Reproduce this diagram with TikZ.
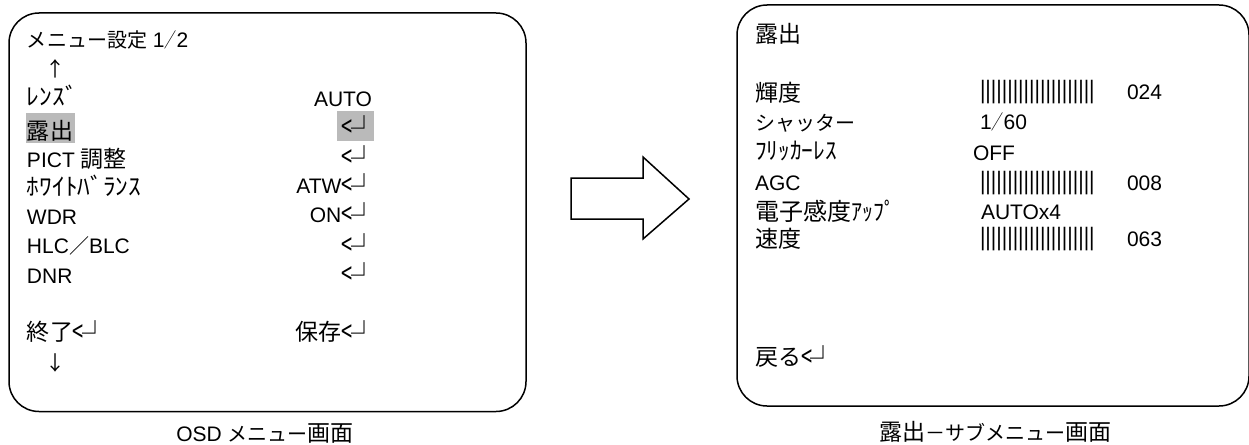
\documentclass[tikz,border=0pt]{standalone}
\usepackage{fontspec}
\setmainfont{Liberation Sans}
\newfontfamily\jp{Noto Sans CJK JP}
\newcommand{\kj}[1]{{\jp\fontsize{23}{24}\selectfont #1}}
\newcommand{\kn}[1]{{\jp\fontsize{20}{24}\selectfont #1}}
\newcommand{\hk}[2]{\scalebox{#1}[1.2]{\kn{#2}}}
\newcommand{\ent}{\mbox{\raisebox{-2.5pt}{\scalebox{1}[1.5]{\jp\fontsize{20}{24}\selectfont <}}\kern-1.5pt\smash{\raisebox{-3pt}{\jp\fontsize{26}{26}\selectfont ┘}}\kern-13pt}}
\newcommand{\barsx}{\scalebox{1}[1.2]{\foreach \i in {1,...,21}{|}}}
\newcommand{\wslash}{\scalebox{0.6}[1]{\kn{／}}}
\tikzset{
 tx/.style={anchor=base west,inner sep=0pt,outer sep=0pt,font=\fontsize{21}{24}\selectfont},
 tr/.style={anchor=base east,inner sep=0pt,outer sep=0pt,font=\fontsize{21}{24}\selectfont},
 captxt/.style={anchor=base,inner sep=0pt,outer sep=0pt,font=\fontsize{21}{24}\selectfont},
 screen/.style={draw=black,line width=1.5pt,rounded corners=30pt},
 hl/.style={fill=black!27,draw=none}
}
\begin{document}
\begin{tikzpicture}[x=1pt,y=-1pt]
\useasboundingbox (0,0) rectangle (1249,444);
\fill[white] (0,0) rectangle (1249,444);
\draw[screen] (9,13) rectangle (526,411.5);
\draw[screen] (737,5) rectangle (1249,406);
\fill[hl] (26,113) rectangle (75,143);
\fill[hl] (337,111) rectangle (374,141);
\draw[line width=1.5pt,line join=miter] (571,178) -- (643,178) -- (643,157) -- (689,199) -- (643,239) -- (643,219) -- (571,219) -- cycle;
\node[tx] (a1) at (27,48) {\kn{メニュー設定}\ 1\wslash 2};
\node[tx] (a2) at (45,77) {\kn{↑}};
\node[tx] (a3) at (27,105) {\hk{1.27}{ﾚﾝｽﾞ}};
\node[tr] (b3) at (372,106) {AUTO};
\node[tx] (a4) at (27,139) {\kj{露出}};
\node[tr] (b4) at (364,135) {\ent};
\node[tx] (a5) at (27,167) {PICT \kj{調整}};
\node[tr] (b5) at (364,165) {\ent};
\node[tx] (a6) at (27,195) {\hk{1.27}{ﾎﾜｲﾄﾊﾞﾗﾝｽ}};
\node[tr] (b6) at (364,193) {ATW\ent};
\node[tx] (a7) at (27,224) {WDR};
\node[tr] (b7) at (364,222) {ON\ent};
\node[tx] (a8) at (27,253) {HLC\kn{／}BLC};
\node[tr] (b8) at (364,253) {\ent};
\node[tx] (a9) at (27,283) {DNR};
\node[tr] (b9) at (364,282) {\ent};
\node[tx] (a10) at (27,340) {\kj{終了}\ent};
\node[tr] (b10) at (364,340) {\kj{保存}\ent};
\node[tx] (a11) at (45,370) {\kn{↓}};
\node[captxt] (c1) at (265,441) {OSD \kn{メニュー}\kj{画面}};
\node[tx] (r1) at (755,42) {\kj{露出}};
\node[tx] (r2) at (755,101) {\kj{輝度}};
\node[tx] (v2) at (980,98) {\barsx};
\node[tx] (n2) at (1127,99) {024};
\node[tx] (r3) at (755,130) {\kn{シャッター}};
\node[tx] (v3) at (980,129) {1\wslash 60};
\node[tx] (r4) at (755,159) {\hk{1.17}{ﾌﾘｯｶｰﾚｽ}};
\node[tx] (v4) at (973,160) {OFF};
\node[tx] (r5) at (755,190) {AGC};
\node[tx] (v5) at (980,189) {\barsx};
\node[tx] (n5) at (1127,190) {008};
\node[tx] (r6) at (755,220) {{\jp\fontsize{24}{24}\selectfont 電子感度}\hk{1.1}{ｱｯﾌﾟ}};
\node[tx] (v6) at (981,219) {AUTOx4};
\node[tx] (r7) at (755,247) {\kj{速度}};
\node[tx] (v7) at (980,245) {\barsx};
\node[tx] (n7) at (1127,246) {063};
\node[tx] (r8) at (755,365) {\kj{戻る}\ent};
\node[captxt] (c2) at (995,440) {\kj{露出}\kn{－サブメニュー}\kj{画面}};
\end{tikzpicture}
\end{document}
